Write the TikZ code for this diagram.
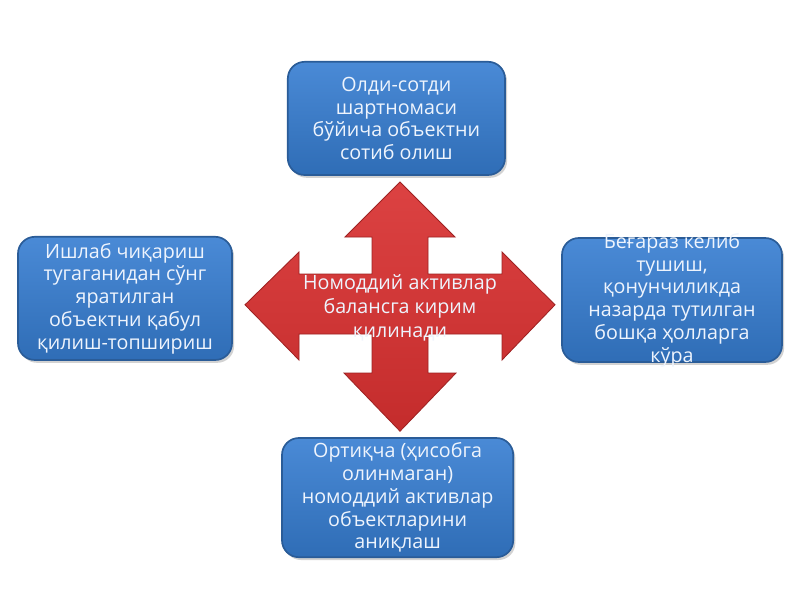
\documentclass[tikz,border=0pt]{standalone}
\usepackage{fontspec}
\setmainfont{Open Sans}
\usetikzlibrary{shadows}

\definecolor{boxblueTop}{HTML}{4A8AD6}
\definecolor{boxblueBot}{HTML}{2F6DB6}
\definecolor{boxedge}{HTML}{2A5C98}
\definecolor{crossredTop}{HTML}{DC4242}
\definecolor{crossredBot}{HTML}{C42C2C}
\definecolor{crossedge}{HTML}{9E2222}
\definecolor{boxtext}{HTML}{EEF4FD}

\tikzset{
  wayboxstyle/.style={draw=boxedge, line width=1.2pt, rounded corners=12pt,
    top color=boxblueTop, bottom color=boxblueBot, text=boxtext,
    align=center, inner sep=0pt,
    font=\fontsize{14}{16.2}\selectfont,
    drop shadow={opacity=0.35, shadow xshift=1.5pt, shadow yshift=-2pt}},
  waytextstyle/.style={text=boxtext, align=center, inner sep=0pt,
    font=\fontsize{14}{16.2}\selectfont},
  crossstyle/.style={draw=crossedge, line width=0.6pt,
    top color=crossredTop, bottom color=crossredBot},
}

\begin{document}
\begin{tikzpicture}
	\fill[white] (0, 0) rectangle (20, -15);
	% red cross in the middle
	\draw[crossstyle] (10, -4.55) -- (11.375, -5.925) -- (10.7, -5.925) -- (10.7, -6.85)
		-- (12.55, -6.85) -- (12.55, -6.3) -- (13.875, -7.62) -- (12.55, -9.0) -- (12.55, -8.35)
		-- (10.7, -8.35) -- (10.7, -9.325) -- (11.4, -9.325) -- (10, -10.78) -- (8.6, -9.325)
		-- (9.3, -9.325) -- (9.3, -8.35) -- (7.475, -8.35) -- (7.475, -9.0) -- (6.125, -7.62)
		-- (7.475, -6.3) -- (7.475, -6.85) -- (9.3, -6.85) -- (9.3, -5.925) -- (8.625, -5.925) -- cycle;
	\node[waytextstyle, font=\fontsize{14}{17}\selectfont] (mid) at (10, -7.7)
		{Номоддий активлар\\балансга кирим\\қилинади};
	% four blue boxes
	\node[wayboxstyle, minimum width=5.43cm, minimum height=2.83cm] (buy) at (9.91, -2.96)
		{Олди-сотди\\шартномаси\\бўйича объектни\\сотиб олиш};
	\node[wayboxstyle, minimum width=5.35cm, minimum height=3.08cm] (make) at (3.125, -7.46)
		{Ишлаб чиқариш\\тугаганидан сўнг\\яратилган\\объектни қабул\\қилиш-топшириш};
	\node[wayboxstyle, minimum width=5.5cm, minimum height=3.1cm] (gift) at (16.8, -7.5) {};
	\node[waytextstyle] (giftText) at (gift.center)
		{Беғараз келиб\\тушиш,\\қонунчиликда\\назарда тутилган\\бошқа ҳолларга\\кўра};
	\node[wayboxstyle, minimum width=5.78cm, minimum height=2.98cm] (extra) at (9.94, -12.44)
		{Ортиқча (ҳисобга\\олинмаган)\\номоддий активлар\\объектларини\\аниқлаш};
\end{tikzpicture}
\end{document}
